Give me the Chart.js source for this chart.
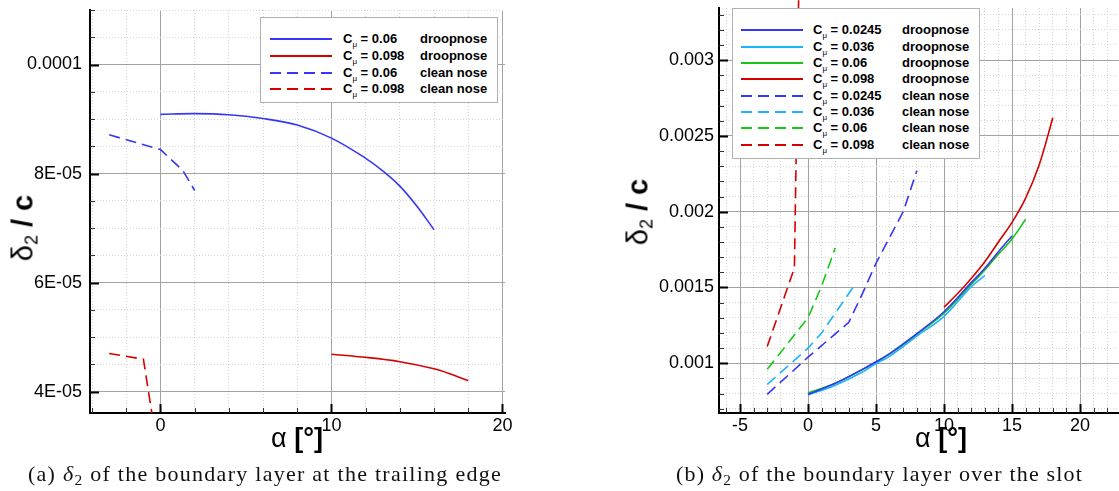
<!DOCTYPE html>
<html>
<head>
<meta charset="utf-8">
<script src="https://cdn.jsdelivr.net/npm/chart.js@4.4.1/dist/chart.umd.min.js"></script>
<style>
  html, body { margin:0; padding:0; background:#fff; width:1119px; height:491px; overflow:hidden; position:relative; }
  canvas { position:absolute; top:0; }
  .ttl { position:absolute; white-space:nowrap; font-family:"Liberation Sans", Arial, sans-serif; color:#000; }
  .ttl sub { font-size:0.62em; vertical-align:-0.3em; line-height:0; }
  .ytl { font-size:29px; line-height:29px; transform:translate(-50%,-50%) rotate(-90deg); }
  .xtl { font-size:27px; line-height:27px; transform:translate(-50%,-50%); }
  .legend { position:absolute; background:#fff; border:1px solid #b0b0b0; box-sizing:border-box; font:bold 13px "Liberation Sans", Arial, sans-serif; color:#000; }
  .legend .row { position:absolute; left:0; right:0; height:16px; line-height:16px; white-space:nowrap; }
  .legend svg { position:absolute; top:0; }
  .legend .cmu, .legend .nose { position:absolute; top:0; }
  .legend sub { font-size:8px; vertical-align:-4px; line-height:0; font-weight:normal; }
  .cap { position:absolute; white-space:nowrap; font-family:"Liberation Serif", "Times New Roman", serif; font-size:22px; line-height:22px; color:#111; }
  .cap sub { font-size:0.7em; vertical-align:-0.25em; line-height:0; }
</style>
</head>
<body>
<canvas id="cA" width="520" height="491" style="left:0px"></canvas>
<canvas id="cB" width="620" height="491" style="left:560px"></canvas>

<div class="ttl ytl" style="left:23px; top:228px">δ<sub>2</sub> <b>/ c</b></div>
<div class="ttl xtl" style="left:297px; top:438px">α <b>[°]</b></div>
<div class="ttl ytl" style="left:638px; top:212px">δ<sub>2</sub> <b>/ c</b></div>
<div class="ttl xtl" style="left:941px; top:438px">α <b>[°]</b></div>

<div id="legA" class="legend" style="left:260px; top:17px; width:238px; height:86px"></div>
<div id="legB" class="legend" style="left:732px; top:8px; width:248px; height:151px"></div>

<div class="cap" id="capA" style="left:28px; top:463px">(a) <i>δ</i><sub>2</sub> of the boundary layer at the trailing edge</div>
<div class="cap" id="capB" style="left:676px; top:463px">(b) <i>δ</i><sub>2</sub> of the boundary layer over the slot</div>

<script>
// ================= DATA =================
// ---- Panel (a): delta2/c at the trailing edge ----
const aXTickValues = [0, 10, 20];
const aXTickLabels = ['0', '10', '20'];
const aYTickValues = [4e-5, 6e-5, 8e-5, 1e-4];
const aYTickLabels = ['4E-05', '6E-05', '8E-05', '0.0001'];

const aDroop006Alpha = [0, 2, 4, 6, 8, 10, 12, 13, 14, 15, 16];
const aDroop006Delta = [9.086e-5, 9.10e-5, 9.08e-5, 9.01e-5, 8.89e-5, 8.65e-5, 8.28e-5, 8.05e-5, 7.77e-5, 7.40e-5, 6.97e-5];
const aDroop0098Alpha = [10, 12, 14, 16, 17, 18];
const aDroop0098Delta = [4.687e-5, 4.63e-5, 4.55e-5, 4.42e-5, 4.32e-5, 4.20e-5];
const aClean006Alpha = [-3, 0, 1.3, 2];
const aClean006Delta = [8.71e-5, 8.44e-5, 8.06e-5, 7.69e-5];
const aClean0098Alpha = [-3, -1, 0];
const aClean0098Delta = [4.70e-5, 4.595e-5, 2.6e-5];

const aLegendCmu  = ['0.06', '0.098', '0.06', '0.098'];
const aLegendNose = ['droopnose', 'droopnose', 'clean nose', 'clean nose'];

// ---- Panel (b): delta2/c over the slot ----
const bXTickValues = [-5, 0, 5, 10, 15, 20, 25];
const bXTickLabels = ['-5', '0', '5', '10', '15', '20', '25'];
const bYTickValues = [0.001, 0.0015, 0.002, 0.0025, 0.003];
const bYTickLabels = ['0.001', '0.0015', '0.002', '0.0025', '0.003'];

const bDroop0245Alpha = [0, 2, 4, 5, 6, 8, 10, 12, 13, 14, 15];
const bDroop0245Delta = [0.000795, 0.000868, 0.00096, 0.00101, 0.001064, 0.001196, 0.00134, 0.001532, 0.001627, 0.001736, 0.00184];
const bDroop036Alpha = [0, 2, 4, 5, 6, 8, 10, 12, 13];
const bDroop036Delta = [0.00079, 0.000855, 0.000942, 0.000998, 0.001046, 0.001179, 0.00131, 0.001505, 0.001578];
const bDroop06Alpha = [0, 2, 4, 5, 6, 8, 10, 12, 13, 14, 15, 16];
const bDroop06Delta = [0.000804, 0.000868, 0.000958, 0.001008, 0.00106, 0.00119, 0.00133, 0.00152, 0.001616, 0.00172, 0.00182, 0.00195];
const bDroop098Alpha = [10, 11, 12, 13, 14, 15, 16, 17, 18];
const bDroop098Delta = [0.00137, 0.00146, 0.00156, 0.00167, 0.0018, 0.00193, 0.00209, 0.00231, 0.00262];
const bClean0245Alpha = [-3, 0, 3, 4, 5, 6, 7, 8];
const bClean0245Delta = [0.000795, 0.00104, 0.00127, 0.00146, 0.00166, 0.00183, 0.002, 0.00227];
const bClean036Alpha = [-3, 0, 1, 2, 3.3];
const bClean036Delta = [0.00086, 0.0011, 0.0012, 0.00133, 0.0015];
const bClean06Alpha = [-3, 0, 1, 2];
const bClean06Delta = [0.00096, 0.0013, 0.00151, 0.00176];
const bClean098Alpha = [-3, -1, 0];
const bClean098Delta = [0.00111, 0.00163, 0.00733];

const bLegendCmu  = ['0.0245', '0.036', '0.06', '0.098', '0.0245', '0.036', '0.06', '0.098'];
const bLegendNose = ['droopnose', 'droopnose', 'droopnose', 'droopnose', 'clean nose', 'clean nose', 'clean nose', 'clean nose'];

// ================= STYLE =================
const C_BLUE = '#3636f6', C_LBLUE = '#1db2fc', C_GREEN = '#16c816', C_RED = '#d60000';
const DASH = [11, 6];
const FONT = '"Liberation Sans", Arial, sans-serif';

function pts(xs, ys) { return xs.map((x, i) => ({ x: x, y: ys[i] })); }
function ds(label, xs, ys, color, dashed, extra) {
  return Object.assign({
    label: label, data: pts(xs, ys), borderColor: color, backgroundColor: color,
    borderWidth: 1.6, borderDash: dashed ? DASH : [], pointRadius: 0, fill: false,
    tension: dashed ? 0 : 0.35
  }, extra || {});
}
function stepTicks(min, max, step) {
  const out = [];
  const k0 = Math.ceil(min / step - 1e-9), k1 = Math.floor(max / step + 1e-9);
  for (let k = k0; k <= k1; k++) out.push(Number((k * step).toPrecision(10)));
  return out;
}
function idxOf(v, arr) { return arr.findIndex(m => Math.abs(m - v) <= Math.abs(m) * 1e-6 + 1e-12); }

const innerTicks = {
  id: 'innerTicks',
  afterDraw(chart) {
    const { ctx, chartArea: a } = chart;
    const xs = chart.scales.x, ys = chart.scales.y;
    ctx.save();
    xs.ticks.forEach(t => {
      const p = Math.round(xs.getPixelForValue(t.value)) + 0.5;
      ctx.strokeStyle = t.major ? '#000' : '#333';
      ctx.lineWidth = t.major ? 2 : 1;
      ctx.beginPath(); ctx.moveTo(p, a.bottom); ctx.lineTo(p, a.bottom - (t.major ? 9 : 5)); ctx.stroke();
    });
    ys.ticks.forEach(t => {
      const p = Math.round(ys.getPixelForValue(t.value)) + 0.5;
      ctx.strokeStyle = t.major ? '#000' : '#333';
      ctx.lineWidth = t.major ? 2 : 1;
      ctx.beginPath(); ctx.moveTo(a.left, p); ctx.lineTo(a.left + (t.major ? 9 : 5), p); ctx.stroke();
    });
    ctx.restore();
  }
};

function axis(min, max, minorStep, majVals, majLabels, isX, fitSize, pad) {
  return {
    type: 'linear', min: min, max: max,
    afterBuildTicks: s => { s.ticks = stepTicks(min, max, minorStep).map(v => ({ value: v, major: idxOf(v, majVals) >= 0 })); },
    afterFit: s => {
      if (isX) s.height = fitSize; else s.width = fitSize;
      s.paddingTop = 0; s.paddingBottom = 0; s.paddingLeft = 0; s.paddingRight = 0;
    },
    ticks: {
      autoSkip: false, maxRotation: 0, minRotation: 0, padding: pad, color: '#000',
      font: { family: FONT, size: 18 },
      callback: v => { const i = idxOf(v, majVals); return i >= 0 ? majLabels[i] : ''; }
    },
    grid: { drawTicks: false, lineWidth: 1, color: c => (c.tick && c.tick.major) ? '#a3a3a3' : '#d4d4d4' },
    border: { display: true, color: '#000', width: 2, dash: c => (c.tick && !c.tick.major) ? [1, 2] : [] }
  };
}

function makeChart(id, datasets, xr, yr, padding, yWidth, yPad) {
  return new Chart(document.getElementById(id), {
    type: 'line',
    data: { datasets: datasets },
    options: {
      responsive: false, animation: false, devicePixelRatio: 1,
      layout: { padding: padding },
      plugins: { legend: { display: false }, tooltip: { enabled: false } },
      scales: {
        x: axis(xr[0], xr[1], xr[2], xr[3], xr[4], true, 78, 2),
        y: axis(yr[0], yr[1], yr[2], yr[3], yr[4], false, yWidth, yPad)
      }
    },
    plugins: [innerTicks]
  });
}

const dsA = [
  ds('Cμ = 0.06 droopnose', aDroop006Alpha, aDroop006Delta, C_BLUE, false),
  ds('Cμ = 0.098 droopnose', aDroop0098Alpha, aDroop0098Delta, C_RED, false),
  ds('Cμ = 0.06 clean nose', aClean006Alpha, aClean006Delta, C_BLUE, true),
  ds('Cμ = 0.098 clean nose', aClean0098Alpha, aClean0098Delta, C_RED, true)
];
const dsB = [
  ds('Cμ = 0.0245 droopnose', bDroop0245Alpha, bDroop0245Delta, C_BLUE, false),
  ds('Cμ = 0.036 droopnose', bDroop036Alpha, bDroop036Delta, C_LBLUE, false),
  ds('Cμ = 0.06 droopnose', bDroop06Alpha, bDroop06Delta, C_GREEN, false),
  ds('Cμ = 0.098 droopnose', bDroop098Alpha, bDroop098Delta, C_RED, false),
  ds('Cμ = 0.0245 clean nose', bClean0245Alpha, bClean0245Delta, C_BLUE, true),
  ds('Cμ = 0.036 clean nose', bClean036Alpha, bClean036Delta, C_LBLUE, true),
  ds('Cμ = 0.06 clean nose', bClean06Alpha, bClean06Delta, C_GREEN, true),
  ds('Cμ = 0.098 clean nose', bClean098Alpha, bClean098Delta, C_RED, true, { clip: { left: 0, top: 10, right: 0, bottom: 0 } })
];

makeChart('cA', dsA, [-4.123, 20.15, 2, aXTickValues, aXTickLabels], [3.6085e-5, 1.1e-4, 5e-6, aYTickValues, aYTickLabels],
  { left: 0, top: 10, right: 15, bottom: 0 }, 90, 8);
makeChart('cB', dsB, [-6.544, 26.1, 1, bXTickValues, bXTickLabels], [0.000672, 0.003344, 1e-4, bYTickValues, bYTickLabels],
  { left: 0, top: 8, right: 17, bottom: 0 }, 159, 5);

// ================= LEGENDS =================
function buildLegend(el, datasets, cmu, nose, geo) {
  datasets.forEach((d, i) => {
    const row = document.createElement('div');
    row.className = 'row';
    row.style.top = (geo.first + i * geo.gap - 8) + 'px';
    const dash = d.borderDash.length ? ' stroke-dasharray="' + d.borderDash.join(' ') + '"' : '';
    row.innerHTML =
      '<svg width="' + geo.sw + '" height="16" style="left:' + geo.sx + 'px"><line x1="0" y1="8" x2="' + geo.sw + '" y2="8" stroke="' + d.borderColor + '" stroke-width="2"' + dash + '/></svg>' +
      '<span class="cmu" style="left:' + geo.tx + 'px">C<sub>μ</sub> = ' + cmu[i] + '</span>' +
      '<span class="nose" style="left:' + geo.nx + 'px">' + nose[i] + '</span>';
    el.appendChild(row);
  });
}
buildLegend(document.getElementById('legA'), dsA, aLegendCmu, aLegendNose, { first: 21.3, gap: 16.6, sx: 9, sw: 62, tx: 82, nx: 159 });
buildLegend(document.getElementById('legB'), dsB, bLegendCmu, bLegendNose, { first: 21.3, gap: 16.35, sx: 8, sw: 62, tx: 80, nx: 169 });

// ================= CAPTION WIDTH FIT =================
function fitCaption(id, target) {
  const el = document.getElementById(id);
  const n = el.textContent.length;
  const w = el.getBoundingClientRect().width;
  el.style.letterSpacing = ((target - w) / n) + 'px';
}
fitCaption('capA', 474);
fitCaption('capB', 407);
</script>
</body>
</html>
